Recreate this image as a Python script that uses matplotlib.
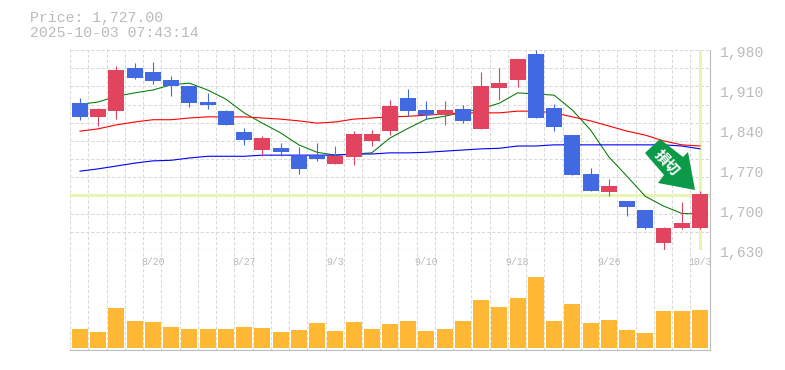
import numpy as np
import matplotlib
matplotlib.use("Agg")
import matplotlib.pyplot as plt
from matplotlib.patches import Polygon

# daily candles
opens = [1887, 1863, 1873, 1948, 1941, 1927, 1917, 1889, 1873, 1836, 1805,
         1808.5, 1794.5, 1794.5, 1780.5, 1793, 1821, 1838, 1896, 1875, 1866,
         1877, 1842, 1913, 1927, 1973, 1878, 1831, 1763, 1731.5, 1716, 1700,
         1642, 1668.5, 1668.5]
highs = [1896, 1878, 1952, 1957, 1959, 1934, 1917, 1905, 1875, 1843.5, 1829.5,
         1817, 1810, 1817, 1812, 1838, 1840, 1892, 1912, 1891, 1891,
         1884, 1941, 1948, 1964, 1980, 1885, 1831, 1773.5, 1754, 1716, 1700,
         1670, 1714, 1733]
lows = [1857, 1847, 1859, 1929, 1920, 1899, 1880, 1877, 1849, 1814, 1794.5,
        1794.5, 1763, 1786, 1780.5, 1779, 1812, 1831, 1864, 1859, 1849,
        1852, 1842, 1892, 1915, 1861, 1838, 1761, 1733, 1724.5, 1689.5, 1667,
        1628, 1667, 1667]
closes = [1863, 1877, 1945, 1931, 1926, 1917, 1887, 1884, 1849, 1822.5, 1826,
          1801.5, 1772, 1789, 1794.5, 1833, 1833, 1882, 1873, 1866, 1875,
          1856, 1917, 1922, 1964, 1861, 1845, 1761, 1733, 1742, 1705, 1668.5,
          1668.5, 1677, 1728]

# moving averages
ma_green = [1885, 1889, 1899, 1905, 1910, 1919, 1922, 1910, 1894, 1870, 1852,
            1835, 1814, 1801, 1796, 1798, 1800, 1826, 1843, 1859, 1864,
            1871, 1877, 1887, 1905, 1903, 1901, 1875, 1840, 1793, 1759, 1724,
            1707, 1694, 1693]
ma_red = [1838, 1842, 1849, 1854, 1858, 1858, 1861, 1863, 1863, 1863, 1861,
          1859, 1856, 1852, 1854, 1859, 1861, 1863, 1864, 1866, 1868,
          1870, 1870, 1870, 1873, 1873, 1870, 1863, 1856, 1847, 1838, 1831,
          1821, 1814, 1812]
ma_blue = [1768, 1772, 1777, 1782, 1786, 1787, 1791, 1794, 1794, 1794, 1796,
           1796, 1796, 1796, 1796, 1798, 1798, 1800, 1800, 1801, 1803,
           1805, 1807, 1808, 1812, 1812, 1814, 1814, 1814, 1814, 1814, 1814,
           1814, 1812, 1807]

volumes = [19, 16, 40, 27, 26, 21, 19, 19, 19, 21, 20, 16, 18, 25, 17, 26, 19,
           24, 27, 17, 19, 27, 48, 41, 50, 71, 27, 44, 25, 28, 18, 15, 37, 37, 38]

price_ticks = [1980, 1910, 1840, 1770, 1700, 1630]
price_labels = ["1,980", "1,910", "1,840", "1,770", "1,700", "1,630"]
date_pos = [4, 9, 14, 19, 24, 29, 34]
date_labels = ["8/20", "8/27", "9/3", "9/10", "9/18", "9/26", "10/3"]
last_price = 1727

W, H = 785, 370
UP = "#e2435f"
DOWN = "#4169e1"
GREY = "#bbbbbb"
GRID = "#d8d8d8"
HILITE = "#e6f5b0"
MONO = "Liberation Mono"

fig = plt.figure(figsize=(W / 100, H / 100), dpi=100)
ax = fig.add_axes([70 / W, (H - 250) / H, 640 / W, 200 / H])
vol = fig.add_axes([70 / W, (H - 350) / H, 640 / W, 100 / H])

idx = np.arange(len(opens))
for a in (ax, vol):
    a.set_xlim(-0.548, 34.55)
    a.set_xticks(idx - 0.535)
    a.grid(True, axis="x", color=GRID, ls=(0, (3, 2)), lw=0.75)
    a.tick_params(length=0, labelbottom=False, labelleft=False)
    a.set_axisbelow(True)
    a.spines["left"].set_visible(False)
    a.spines["top"].set_visible(False)
    a.spines["right"].set_color(GREY)
    a.spines["bottom"].set_color(GREY)

ax.set_ylim(1630, 1980)
ax.set_yticks(np.linspace(1630, 1980, 12))
ax.grid(True, axis="y", color=GRID, ls=(0, (3, 2)), lw=0.75)
vol.set_ylim(-2, 98)
vol.set_yticks([])

ax.axhline(last_price, color=HILITE, lw=2.2, zorder=1.5)
ax.plot([idx[-1], idx[-1]], [1632, 1980], color=HILITE, lw=2.2, zorder=1.5)

ax.plot(idx, ma_green, color="#007a00", lw=0.75, zorder=2)
ax.plot(idx, ma_red, color="#ff0000", lw=0.8, zorder=2)
ax.plot(idx, ma_blue, color="#0000ff", lw=0.8, zorder=2)

colors = [UP if c >= o else DOWN for o, c in zip(opens, closes)]
ax.vlines(idx, lows, highs, colors=colors, lw=0.8, zorder=3)
ax.bar(idx, np.abs(np.subtract(closes, opens)),
       bottom=np.minimum(opens, closes), width=0.877, color=colors, zorder=4)

vol.bar(idx, volumes, width=0.877, color="#ffb833", zorder=3)

# price scale on the right, dates just under the price panel
for val, lab in zip(price_ticks, price_labels):
    ax.annotate(lab, xy=(1, val), xycoords=("axes fraction", "data"),
                xytext=(10, -3), textcoords="offset pixels", va="center",
                ha="left", color=GREY, fontsize=10.6, family=MONO,
                annotation_clip=False)
for pos, lab in zip(date_pos, date_labels):
    vol.annotate(lab, xy=(pos, 1), xycoords=("data", "axes fraction"),
                 xytext=(0, -12), textcoords="offset pixels", va="center",
                 ha="center", color=GREY, fontsize=7.1, family=MONO,
                 annotation_clip=False)

fig.text(30 / W, 1 - 18 / H, "Price: 1,727.00", color=GREY, fontsize=10.7,
         family=MONO, va="center")
fig.text(30 / W, 1 - 33 / H, "2025-10-03 07:43:14", color=GREY, fontsize=10.7,
         family=MONO, va="center")

# green arrow badge
arrow_px = [(660, 139), (645, 153), (664, 175), (658, 183), (695, 190),
            (688, 152), (683, 157)]
arrow_xy = [(x / W, 1 - y / H) for x, y in arrow_px]
fig.add_artist(Polygon(arrow_xy, closed=True, transform=fig.transFigure,
                       facecolor="#0a9a48", edgecolor="none", zorder=10))
fig.text(667 / W, 1 - 162 / H, "損切", color="white", fontsize=10.5,
         family=["Noto Sans CJK JP", "DejaVu Sans"], fontweight="bold",
         rotation=-47, rotation_mode="anchor", ha="center", va="center",
         zorder=11)

fig.savefig("out.png", dpi=100)
